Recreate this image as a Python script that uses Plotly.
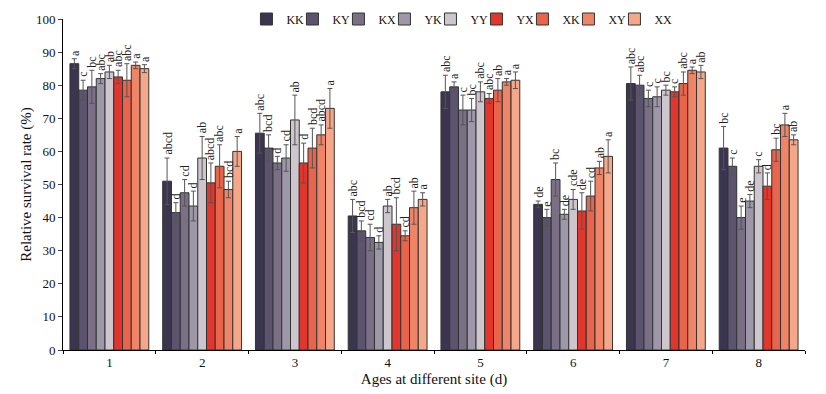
import plotly.graph_objects as go

ages = [1, 2, 3, 4, 5, 6, 7, 8]
series_names = ["KK", "KY", "KX", "YK", "YY", "YX", "XK", "XY", "XX"]

KK = [86.5, 51.0, 65.5, 40.5, 78.0, 44.0, 80.5, 61.0]
KY = [78.5, 41.5, 61.0, 36.0, 79.5, 40.0, 80.0, 55.5]
KX = [79.5, 47.5, 56.5, 34.0, 72.5, 51.5, 76.0, 40.0]
YK = [82.0, 43.5, 58.0, 32.5, 72.5, 41.0, 76.5, 45.0]
YY = [84.0, 58.0, 69.5, 43.5, 78.0, 45.5, 78.5, 55.5]
YX = [82.5, 50.5, 56.5, 38.0, 76.0, 42.0, 78.0, 49.5]
XK = [81.5, 55.5, 61.0, 34.5, 78.5, 46.5, 80.5, 60.5]
XY = [86.0, 48.5, 65.0, 43.0, 81.0, 55.0, 84.5, 68.0]
XX = [85.0, 60.0, 73.0, 45.5, 81.5, 58.5, 84.0, 63.5]

KK_err = [1.5, 7.0, 6.0, 5.0, 5.0, 1.0, 5.0, 6.5]
KY_err = [3.0, 3.0, 4.0, 3.0, 1.5, 2.5, 3.0, 2.5]
KX_err = [5.0, 4.0, 2.0, 4.0, 4.5, 5.0, 2.5, 3.5]
YK_err = [1.5, 4.5, 4.0, 2.0, 3.5, 1.5, 3.0, 2.0]
YY_err = [2.0, 6.5, 7.5, 2.0, 3.0, 3.0, 1.5, 2.0]
YX_err = [2.0, 6.0, 6.0, 8.0, 1.5, 5.5, 1.5, 4.0]
XK_err = [5.0, 6.5, 6.0, 1.5, 3.5, 4.5, 3.5, 3.5]
XY_err = [1.0, 2.5, 3.0, 5.0, 1.0, 2.0, 1.0, 3.5]
XX_err = [1.2, 4.5, 6.0, 2.0, 2.5, 5.0, 2.0, 1.5]

KK_sig = ["a", "abcd", "abc", "abc", "abc", "de", "abc", "bc"]
KY_sig = ["c", "d", "bcd", "bcd", "a", "e", "abc", "c"]
KX_sig = ["bc", "cd", "d", "cd", "c", "bc", "c", "e"]
YK_sig = ["abc", "d", "cd", "d", "bc", "de", "c", "de"]
YY_sig = ["ab", "ab", "ab", "ab", "abc", "cde", "bc", "c"]
YX_sig = ["abc", "abcd", "d", "bcd", "abc", "de", "c", "d"]
XK_sig = ["abc", "abc", "bcd", "cd", "ab", "cd", "abc", "bc"]
XY_sig = ["a", "bcd", "abcd", "ab", "a", "ab", "a", "a"]
XX_sig = ["a", "a", "a", "a", "a", "a", "ab", "ab"]

colors = ["#3c3550", "#5c536e", "#7a7086", "#9e97a7", "#cdc6cc",
          "#e2352b", "#e8644a", "#ef8466", "#f5a78a"]

values = [KK, KY, KX, YK, YY, YX, XK, XY, XX]
errors = [KK_err, KY_err, KX_err, YK_err, YY_err, YX_err, XK_err, XY_err, XX_err]
sigs = [KK_sig, KY_sig, KX_sig, YK_sig, YY_sig, YX_sig, XK_sig, XY_sig, XX_sig]

FONT = "Liberation Serif"
bargap = 0.15
n = len(series_names)
w = (1 - bargap) / n

fig = go.Figure()
annotations = []
for i, name in enumerate(series_names):
    fig.add_trace(go.Bar(
        x=ages, y=values[i], name=name,
        legendwidth=(20 if i == n - 1 else None),
        marker=dict(color=colors[i], line=dict(color="#333333", width=1)),
        error_y=dict(type="data", array=errors[i], color="#555555",
                     thickness=1, width=2.5),
    ))
    for j, a in enumerate(ages):
        xc = a - (1 - bargap) / 2 + (i + 0.5) * w
        annotations.append(dict(
            x=xc, y=values[i][j] + errors[i][j], xref="x", yref="y",
            text=sigs[i][j], textangle=-90, showarrow=False,
            xanchor="center", yanchor="bottom", yshift=1,
            font=dict(family=FONT, size=12, color="#222222"),
        ))

# page body has an 8px margin: compensate so the plot area sits where intended
fig.update_layout(
    width=826, height=394,
    margin=dict(l=55, r=29, t=11, b=52, autoexpand=False),
    paper_bgcolor="white", plot_bgcolor="white",
    barmode="group", bargap=bargap, bargroupgap=0,
    font=dict(family=FONT, size=13, color="#111111"),
    annotations=annotations,
    legend=dict(orientation="h", x=0.539, xanchor="center", y=1.0, yanchor="middle",
                font=dict(family=FONT, size=12), itemwidth=30,
                entrywidth=1, entrywidthmode="pixels",
                bgcolor="rgba(0,0,0,0)", traceorder="normal"),
    xaxis=dict(
        range=[0.5, 8.5], tickmode="array", tickvals=ages,
        ticktext=[str(a) for a in ages], ticks="", showgrid=False,
        showline=True, linecolor="black", linewidth=1, zeroline=False,
        tickfont=dict(family=FONT, size=13), automargin=False,
        minor=dict(tickmode="array", tickvals=[k + 0.5 for k in range(0, 9)],
                   ticks="outside", ticklen=3, tickcolor="black", showgrid=False),
        title=dict(text="Ages at different site (d)", font=dict(family=FONT, size=15),
                   standoff=4),
    ),
    yaxis=dict(
        range=[0, 100], dtick=10, ticks="outside", ticklen=4, showgrid=False,
        showline=True, linecolor="black", linewidth=1, zeroline=False,
        tickfont=dict(family=FONT, size=13), automargin=False,
        title=dict(text="Relative survival rate (%)", font=dict(family=FONT, size=15),
                   standoff=0),
    ),
)

fig.write_html("out.html")
